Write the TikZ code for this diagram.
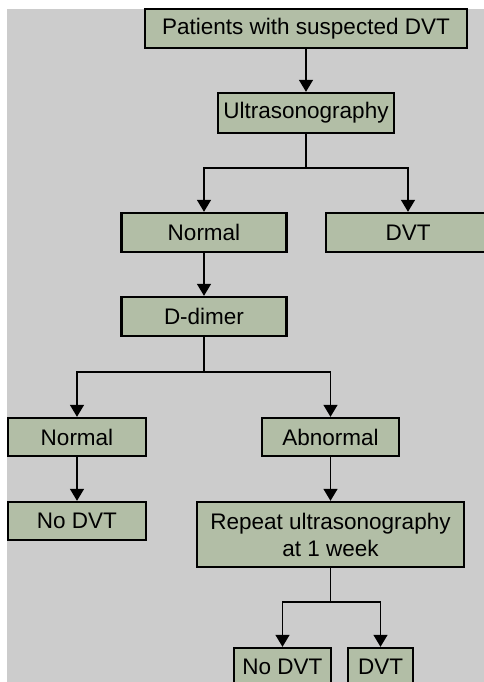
\documentclass[tikz,border=0pt]{standalone}
\usepackage{fontspec}
\setmainfont{Liberation Sans}
\usetikzlibrary{arrows.meta}

\definecolor{panelgray}{RGB}{204,204,204}
\definecolor{sage}{RGB}{178,190,166}

\begin{document}
\begin{tikzpicture}[x=1pt,y=-1pt,
  box/.style={draw=black, line width=2.4pt, fill=sage, rectangle,
    inner sep=0pt, align=center,
    font=\fontsize{22.5}{27}\selectfont},
  link/.style={line width=1.5pt, draw=black},
  arr/.style={link, -{Triangle[width=14pt,length=12pt]}}]

  % page and grey panel
  \useasboundingbox (0,0) rectangle (484,682);
  \fill[panelgray] (7,9) rectangle (490,690);

  % boxes
  \node[box, minimum width=322pt, minimum height=39pt] (start)   at (306,28.5)  {Patients with suspected DVT};
  \node[box, minimum width=176pt, minimum height=40pt] (us)      at (306,113)   {Ultrasonography};
  \node[box, minimum width=165pt, minimum height=39pt] (norm)    at (204,232.5) {Normal};
  \node[box, minimum width=164pt, minimum height=39pt] (dvt)     at (408,232.5) {DVT};
  \node[box, minimum width=165pt, minimum height=39pt] (dd)      at (204,316.5) {D-dimer};
  \node[box, minimum width=138pt, minimum height=38pt] (ddnorm)  at (77,437)    {Normal};
  \node[box, minimum width=137pt, minimum height=38pt] (ddabn)   at (330.5,437) {Abnormal};
  \node[box, minimum width=138pt, minimum height=38pt] (nodvt)   at (77,521)    {No DVT};
  \node[box, minimum width=267pt, minimum height=65pt] (repeat)  at (330.5,534.5) {Repeat ultrasonography\\at 1 week};
  \node[box, minimum width=97pt,  minimum height=38pt] (rnodvt)  at (282.5,667) {No DVT};
  \node[box, minimum width=65pt,  minimum height=38pt] (rdvt)    at (380.5,667) {DVT};

  % branch points
  \coordinate (j1) at (306,168);
  \coordinate (j2) at (204,372);
  \coordinate (j3) at (330.5,602);

  % connectors
  \draw[arr] (start) -- (us);
  \draw[link] (us.south) -- (j1);
  \draw[arr] (j1) -| (norm.north);
  \draw[arr] (j1) -| (dvt.north);
  \draw[arr] (norm) -- (dd);
  \draw[link] (dd.south) -- (j2);
  \draw[arr] (j2) -| (ddnorm.north);
  \draw[arr] (j2) -| (ddabn.north);
  \draw[arr] (ddnorm) -- (nodvt);
  \draw[arr] (ddabn) -- (repeat);
  \draw[link] (repeat.south) -- (j3);
  \draw[arr] (j3) -| (rnodvt.north);
  \draw[arr] (j3) -| (rdvt.north);
\end{tikzpicture}
\end{document}
